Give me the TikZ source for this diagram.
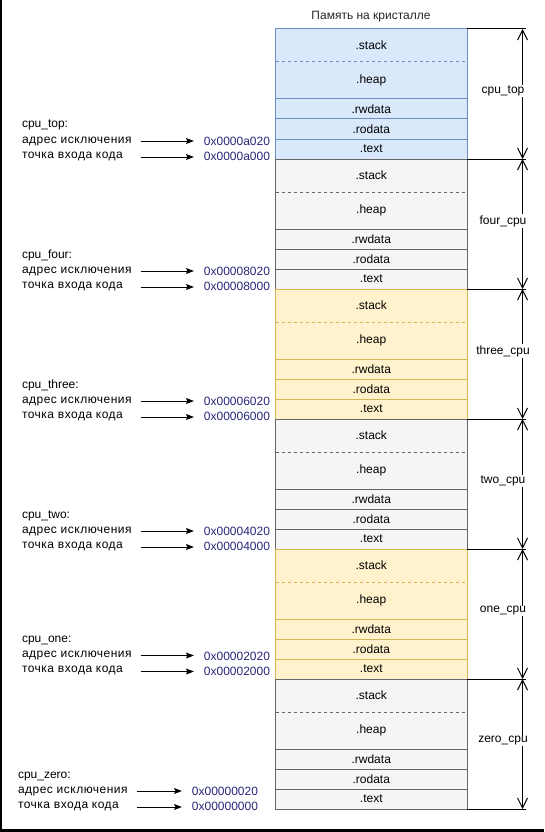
\documentclass[tikz,border=0pt]{standalone}
\usepackage{fontspec}
\setmainfont{Liberation Sans}
\newfontfamily\cyrwide[LetterSpace=4]{Liberation Sans}
\usetikzlibrary{arrows.meta}
\definecolor{bfill}{HTML}{DAE8FC}
\definecolor{bdraw}{HTML}{6C8EBF}
\definecolor{gfill}{HTML}{F5F5F5}
\definecolor{gdraw}{HTML}{666666}
\definecolor{yfill}{HTML}{FFF2CC}
\definecolor{ydraw}{HTML}{D6B656}
\definecolor{addrc}{HTML}{27277A}
\tikzset{
  sec/.style={inner sep=0pt, outer sep=0pt, minimum width=191.5pt, anchor=north west},
  lbl/.style={inner sep=0pt, outer sep=0pt, anchor=base west},
  addr/.style={inner sep=0pt, outer sep=0pt, anchor=base east, text=addrc},
  arr/.style={line width=1pt, -{Stealth[length=8pt,width=6pt,inset=1.5pt]}},
  dim/.style={line width=1pt, {Straight Barb[length=10pt,width=10pt]}-{Straight Barb[length=10pt,width=10pt]}},
  dimlbl/.style={fill=white, inner sep=1pt}
}
\begin{document}
\begin{tikzpicture}[x=1pt,y=-1pt,font=\fontsize{12}{14}\selectfont]
\useasboundingbox (0,0) rectangle (544,832);
\fill[white] (0,0) rectangle (544,832);
\draw[line width=2pt] (1,0) -- (1,830.5);
\draw[line width=3.5pt] (0,830.5) -- (544,830.5);
\node[text=black!85] (title) at (371,17) {Память на кристалле};
\foreach \i/\fc/\dc/\rl/\ll/\ea/\eb/\xt/\xe/\dy in {
 0/bfill/bdraw/cpu\_top/cpu\_top:/0x0000a020/0x0000a000/22/270/0,
 1/gfill/gdraw/four\_cpu/cpu\_four:/0x00008020/0x00008000/22/270/0,
 2/yfill/ydraw/three\_cpu/cpu\_three:/0x00006020/0x00006000/22/270/0,
 3/gfill/gdraw/two\_cpu/cpu\_two:/0x00004020/0x00004000/22/270/0,
 4/yfill/ydraw/one\_cpu/cpu\_one:/0x00002020/0x00002000/22/270/-5.5,
 5/gfill/gdraw/zero\_cpu/cpu\_zero:/0x00000020/0x00000000/18/258/0}
{
 \pgfmathsetmacro\yt{29+130*\i}
 \node[sec, fill=\fc, minimum height=33pt] (st\i) at (275.5,\yt) {\raisebox{-1.5pt}{.stack}};
 \node[sec, fill=\fc, minimum height=37pt] (hp\i) at (st\i.south west) {\raisebox{2pt}{.heap}};
 \node[sec, fill=\fc, minimum height=20pt] (rw\i) at (hp\i.south west) {.rwdata};
 \node[sec, fill=\fc, minimum height=20pt] (ro\i) at (rw\i.south west) {.rodata};
 \node[sec, fill=\fc, minimum height=20pt] (tx\i) at (ro\i.south west) {.text};
 \draw[draw=\dc, line width=1pt] (st\i.north west) rectangle (tx\i.south east);
 \draw[draw=\dc, line width=1pt, dash pattern=on 3pt off 3pt] (st\i.south west) -- (st\i.south east);
 \draw[draw=\dc, line width=1pt] (hp\i.south west) -- (hp\i.south east);
 \draw[draw=\dc, line width=1pt] (rw\i.south west) -- (rw\i.south east);
 \draw[draw=\dc, line width=1pt] (ro\i.south west) -- (ro\i.south east);
 % right dimension
 \coordinate (rt\i) at (522.5,\yt);
 \coordinate (rb\i) at (522.5,\yt+130);
 \draw[line width=1pt] (st\i.north east) -- ([xshift=59pt]st\i.north east);
 \draw[line width=1pt] (tx\i.south east) -- ([xshift=59pt]tx\i.south east);
 \draw[dim] (rt\i) -- (rb\i);
 \node[dimlbl] (rl\i) at (503,\yt+62) {\rl};
 % left labels
 \node[lbl] (gn\i) at (\xt,\yt+99+\dy) {\ll};
 \node[lbl] (ex\i) at (\xt,\yt+114+\dy) {\cyrwide адрес исключения};
 \node[lbl] (en\i) at (\xt,\yt+129+\dy) {\cyrwide точка входа кода};
 \node[addr] (ea\i) at (\xe,\yt+116.5+\dy) {\ea};
 \node[addr] (eb\i) at (\xe,\yt+131.5+\dy) {\eb};
 \draw[arr] ([xshift=9pt,yshift=2pt]ex\i.base east) -- ([xshift=-10pt,yshift=4.5pt]ea\i.base west);
 \draw[arr] ([xshift=9pt,yshift=1pt]ex\i.base east |- en\i.base) -- ([xshift=-10pt,yshift=3.5pt]eb\i.base west);
}
\end{tikzpicture}
\end{document}
